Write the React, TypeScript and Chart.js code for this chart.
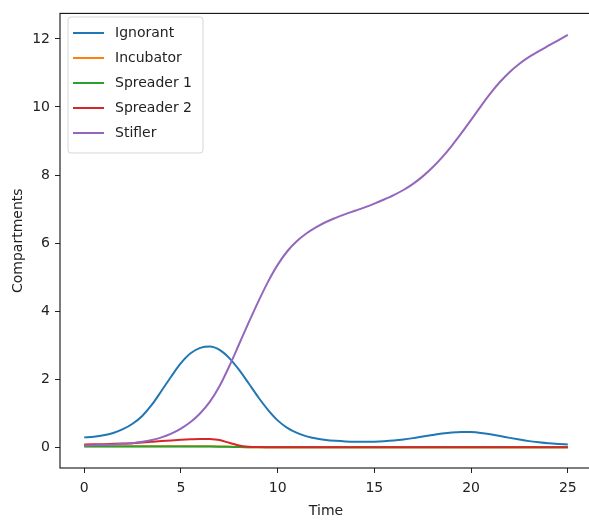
import React, { useEffect, useRef } from "react";
import { Chart, registerables } from "chart.js";

Chart.register(...registerables);

const times: number[] = [
  0, 0.5, 1, 1.5, 2, 2.5, 3, 3.5, 4, 4.5, 5, 5.5, 6, 6.5, 7, 7.5, 8, 8.5, 9, 9.5,
  10, 10.5, 11, 11.5, 12, 12.5, 13, 13.5, 14, 14.5, 15, 15.5, 16, 16.5, 17, 17.5,
  18, 18.5, 19, 19.5, 20, 20.5, 21, 21.5, 22, 22.5, 23, 23.5, 24, 24.5, 25,
];

const ignorant: number[] = [
  0.29, 0.31, 0.35, 0.42, 0.53, 0.69, 0.92, 1.25, 1.66, 2.08, 2.47, 2.76, 2.92, 2.96,
  2.86, 2.62, 2.28, 1.88, 1.47, 1.1, 0.79, 0.57, 0.42, 0.32, 0.255, 0.215, 0.19, 0.172,
  0.162, 0.16, 0.165, 0.178, 0.198, 0.228, 0.268, 0.315, 0.362, 0.405, 0.436, 0.45,
  0.445, 0.42, 0.38, 0.33, 0.275, 0.225, 0.18, 0.145, 0.115, 0.095, 0.08,
];

const incubator: number[] = [
  0.03, 0.03, 0.03, 0.03, 0.03, 0.03, 0.03, 0.03, 0.03, 0.03, 0.03, 0.03, 0.03, 0.03,
  0.025, 0.015, 0.008, 0.003, 0.001, 0, 0, 0, 0, 0, 0, 0, 0, 0, 0, 0, 0, 0, 0, 0, 0,
  0, 0, 0, 0, 0, 0, 0, 0, 0, 0, 0, 0, 0, 0, 0, 0,
];

const spreader1: number[] = [
  0.02, 0.02, 0.02, 0.02, 0.02, 0.02, 0.02, 0.02, 0.02, 0.02, 0.02, 0.02, 0.02, 0.02,
  0.018, 0.012, 0.005, 0.002, 0.001, 0, 0, 0, 0, 0, 0, 0, 0, 0, 0, 0, 0, 0, 0, 0, 0,
  0, 0, 0, 0, 0, 0, 0, 0, 0, 0, 0, 0, 0, 0, 0, 0,
];

const spreader2: number[] = [
  0.08, 0.085, 0.09, 0.1, 0.11, 0.12, 0.14, 0.16, 0.18, 0.2, 0.22, 0.235, 0.245, 0.24,
  0.21, 0.13, 0.05, 0.015, 0.004, 0.001, 0, 0, 0, 0, 0, 0, 0, 0, 0, 0, 0, 0, 0, 0, 0,
  0, 0, 0, 0, 0, 0, 0, 0, 0, 0, 0, 0, 0, 0, 0, 0,
];

const stifler: number[] = [
  0.05, 0.06, 0.07, 0.08, 0.1, 0.12, 0.16, 0.21, 0.29, 0.4, 0.55, 0.74, 1.0, 1.34,
  1.8, 2.38, 3.02, 3.66, 4.28, 4.86, 5.36, 5.76, 6.06, 6.29, 6.47, 6.62, 6.74, 6.85,
  6.95, 7.05, 7.16, 7.28, 7.41, 7.56, 7.74, 7.96, 8.22, 8.52, 8.86, 9.23, 9.62, 10.02,
  10.4, 10.74, 11.03, 11.27, 11.47, 11.64, 11.8, 11.96, 12.12,
];

const seriesNames: string[] = ["Ignorant", "Incubator", "Spreader 1", "Spreader 2", "Stifler"];
const seriesColors: string[] = ["#1f77b4", "#ff7f0e", "#2ca02c", "#d62728", "#9467bd"];
const seriesValues: number[][] = [ignorant, incubator, spreader1, spreader2, stifler];

const xTicks: number[] = [0, 5, 10, 15, 20, 25];
const yTicks: number[] = [0, 2, 4, 6, 8, 10, 12];

const FONT = "DejaVu Sans";
const TEXT = "#222";

const framePlugin = {
  id: "frame",
  afterDatasetsDraw(chart: any) {
    const { ctx, chartArea } = chart;
    ctx.save();
    ctx.strokeStyle = "#111";
    ctx.lineWidth = 1.1;
    ctx.strokeRect(chartArea.left, chartArea.top, chartArea.right - chartArea.left, chartArea.bottom - chartArea.top);
    ctx.restore();
  },
};

const legendPlugin = {
  id: "mplLegend",
  afterDraw(chart: any) {
    const { ctx } = chart;
    const x0 = 68, y0 = 17, w = 135, h = 136, r = 3;
    ctx.save();
    ctx.beginPath();
    ctx.moveTo(x0 + r, y0);
    ctx.lineTo(x0 + w - r, y0);
    ctx.arcTo(x0 + w, y0, x0 + w, y0 + r, r);
    ctx.lineTo(x0 + w, y0 + h - r);
    ctx.arcTo(x0 + w, y0 + h, x0 + w - r, y0 + h, r);
    ctx.lineTo(x0 + r, y0 + h);
    ctx.arcTo(x0, y0 + h, x0, y0 + h - r, r);
    ctx.lineTo(x0, y0 + r);
    ctx.arcTo(x0, y0, x0 + r, y0, r);
    ctx.closePath();
    ctx.fillStyle = "rgba(255,255,255,0.8)";
    ctx.fill();
    ctx.strokeStyle = "#d6d6d6";
    ctx.lineWidth = 1;
    ctx.stroke();
    ctx.font = `14px "${FONT}"`;
    ctx.textBaseline = "middle";
    ctx.textAlign = "left";
    chart.data.datasets.forEach((ds: any, i: number) => {
      const y = 33 + i * 25;
      ctx.beginPath();
      ctx.strokeStyle = ds.borderColor;
      ctx.lineWidth = 2;
      ctx.moveTo(73, y);
      ctx.lineTo(104, y);
      ctx.stroke();
      ctx.fillStyle = TEXT;
      ctx.fillText(ds.label, 115, y);
    });
    ctx.restore();
  },
};

export default function App() {
  const canvasRef = useRef<HTMLCanvasElement | null>(null);

  useEffect(() => {
    if (!canvasRef.current) return;
    Chart.defaults.font.family = FONT;
    Chart.defaults.color = TEXT;
    const datasets = seriesNames.map((name, i) => ({
      label: name,
      data: times.map((t, j) => ({ x: t, y: seriesValues[i][j] })),
      borderColor: seriesColors[i],
      backgroundColor: seriesColors[i],
      borderWidth: 2,
      pointRadius: 0,
      fill: false,
      cubicInterpolationMode: "monotone" as const,
      order: seriesNames.length - 1 - i,
    }));
    const chart = new Chart(canvasRef.current, {
      type: "line",
      data: { datasets },
      plugins: [framePlugin, legendPlugin],
      options: {
        animation: false,
        responsive: false,
        maintainAspectRatio: false,
        events: [],
        layout: { padding: { left: 6, top: 8, right: 8, bottom: 0 } },
        plugins: { legend: { display: false }, tooltip: { enabled: false } },
        scales: {
          x: {
            type: "linear",
            min: -1.25,
            max: 26.25,
            afterBuildTicks: (scale: any) => {
              scale.ticks = xTicks.map((v) => ({ value: v }));
            },
            afterFit: (scale: any) => {
              scale.height = 55;
            },
            grid: { drawOnChartArea: false, drawTicks: true, tickLength: 5, color: "#222", lineWidth: 1 },
            border: { display: false },
            ticks: { padding: 7, font: { size: 14 }, color: TEXT, maxRotation: 0 },
            title: { display: true, text: "Time", font: { size: 14 }, color: TEXT, padding: { top: 0, bottom: 3 } },
          },
          y: {
            type: "linear",
            min: -0.61,
            max: 12.75,
            afterBuildTicks: (scale: any) => {
              scale.ticks = yTicks.map((v) => ({ value: v }));
            },
            afterFit: (scale: any) => {
              scale.width = 54;
            },
            grid: { drawOnChartArea: false, drawTicks: true, tickLength: 5, color: "#222", lineWidth: 1 },
            border: { display: false },
            ticks: { padding: 5, font: { size: 14 }, color: TEXT },
            title: { display: true, text: "Compartments", font: { size: 14 }, color: TEXT, padding: { top: 4, bottom: 0 } },
          },
        },
      },
    });
    return () => chart.destroy();
  }, []);

  return (
    <div style={{ position: "absolute", left: 0, top: 0, width: 589, height: 523, overflow: "hidden", background: "#fff" }}>
      <canvas ref={canvasRef} width={600} height={523} style={{ display: "block", width: 600, height: 523 }} />
    </div>
  );
}
